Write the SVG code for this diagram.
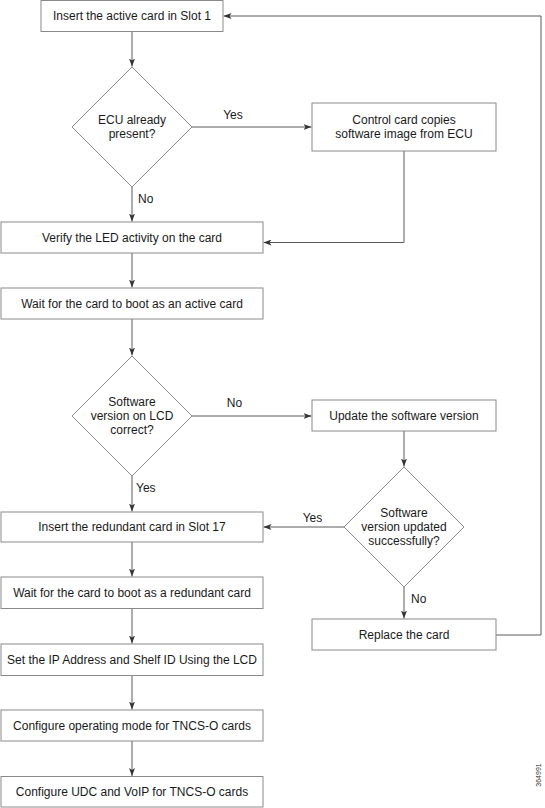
<svg xmlns="http://www.w3.org/2000/svg" width="545" height="808" viewBox="0 0 545 808">
<style>
  .box { fill: #ffffff; stroke: #8a8a8a; stroke-width: 1; }
  .t { font-family: "Liberation Sans", Arial, sans-serif; font-size: 12px; fill: #1a1a1a; text-anchor: middle; }
  .lbl { font-family: "Liberation Sans", Arial, sans-serif; font-size: 12px; fill: #1a1a1a; }
  .c { fill: none; stroke: #5a5a5a; stroke-width: 1; }
  .id { font-family: "Liberation Sans", Arial, sans-serif; font-size: 7px; fill: #333; text-anchor: middle; }
</style>
<defs>
  <marker id="arr" markerWidth="8" markerHeight="6" refX="8" refY="3" orient="auto" markerUnits="userSpaceOnUse">
    <path d="M0,0 L8,3 L0,6 L2,3 Z" fill="#333"/>
  </marker>
</defs>
<rect width="545" height="808" fill="#ffffff"/>

<g id="connectors">
  <path class="c" d="M132,31.5 V66.5" marker-end="url(#arr)"/>
  <path class="c" d="M192,127 H311.5" marker-end="url(#arr)"/>
  <path class="c" d="M132,187 V221.5" marker-end="url(#arr)"/>
  <path class="c" d="M404,151 V242.5 H263.5" marker-end="url(#arr)"/>
  <path class="c" d="M132,253 V287.5" marker-end="url(#arr)"/>
  <path class="c" d="M132,319 V355.5" marker-end="url(#arr)"/>
  <path class="c" d="M192,416 H311.5" marker-end="url(#arr)"/>
  <path class="c" d="M404,431 V466.5" marker-end="url(#arr)"/>
  <path class="c" d="M132,476 V511.5" marker-end="url(#arr)"/>
  <path class="c" d="M344,527 H263.5" marker-end="url(#arr)"/>
  <path class="c" d="M404,587 V618.5" marker-end="url(#arr)"/>
  <path class="c" d="M496,635 H541 V16 H223.5" marker-end="url(#arr)"/>
  <path class="c" d="M132,542 V576.5" marker-end="url(#arr)"/>
  <path class="c" d="M132,608.5 V643.5" marker-end="url(#arr)"/>
  <path class="c" d="M132,675.5 V709.5" marker-end="url(#arr)"/>
  <path class="c" d="M132,741 V776" marker-end="url(#arr)"/>
  <text class="lbl" x="233" y="119" text-anchor="middle">Yes</text>
  <text class="lbl" x="138" y="203">No</text>
  <text class="lbl" x="234.5" y="407" text-anchor="middle">No</text>
  <text class="lbl" x="136" y="492">Yes</text>
  <text class="lbl" x="312.5" y="522" text-anchor="middle">Yes</text>
  <text class="lbl" x="411" y="603">No</text>
</g>

<g id="insert-active">
  <rect class="box" x="41" y="0.5" width="182" height="31"/>
  <text class="t" x="132" y="20">Insert the active card in Slot 1</text>
</g>
<g id="ecu-present">
  <path class="box" d="M132,67 L192,127 L132,187 L72,127 Z"/>
  <text class="t" x="132" y="124">ECU already</text>
  <text class="t" x="132" y="138">present?</text>
</g>
<g id="copy-image">
  <rect class="box" x="312" y="103" width="184" height="48"/>
  <text class="t" x="404" y="124">Control card copies</text>
  <text class="t" x="404" y="138">software image from ECU</text>
</g>
<g id="verify-led">
  <rect class="box" x="1" y="222" width="262" height="31"/>
  <text class="t" x="132" y="241.5">Verify the LED activity on the card</text>
</g>
<g id="wait-active">
  <rect class="box" x="1" y="288" width="262" height="31"/>
  <text class="t" x="132" y="307.5">Wait for the card to boot as an active card</text>
</g>
<g id="sw-correct">
  <path class="box" d="M132,356 L192,416 L132,476 L72,416 Z"/>
  <text class="t" x="132" y="406">Software</text>
  <text class="t" x="132" y="420">version on LCD</text>
  <text class="t" x="132" y="434">correct?</text>
</g>
<g id="update-sw">
  <rect class="box" x="312" y="400" width="184" height="31"/>
  <text class="t" x="404" y="419.5">Update the software version</text>
</g>
<g id="sw-updated">
  <path class="box" d="M404,467 L464,527 L404,587 L344,527 Z"/>
  <text class="t" x="404" y="517">Software</text>
  <text class="t" x="404" y="531">version updated</text>
  <text class="t" x="404" y="545">successfully?</text>
</g>
<g id="insert-redundant">
  <rect class="box" x="1" y="512" width="262" height="30"/>
  <text class="t" x="132" y="531">Insert the redundant card in Slot 17</text>
</g>
<g id="replace-card">
  <rect class="box" x="312" y="619" width="184" height="31"/>
  <text class="t" x="404" y="638.5">Replace the card</text>
</g>
<g id="wait-redundant">
  <rect class="box" x="1" y="577" width="262" height="31.5"/>
  <text class="t" x="132" y="597">Wait for the card to boot as a redundant card</text>
</g>
<g id="set-ip">
  <rect class="box" x="1" y="644" width="262" height="31.5"/>
  <text class="t" x="132" y="664">Set the IP Address and Shelf ID Using the LCD</text>
</g>
<g id="config-mode">
  <rect class="box" x="1" y="710" width="262" height="31"/>
  <text class="t" x="132" y="729.5">Configure operating mode for TNCS-O cards</text>
</g>
<g id="config-udc">
  <rect class="box" x="1" y="776.5" width="262" height="30.5"/>
  <text class="t" x="132" y="796">Configure UDC and VoIP for TNCS-O cards</text>
</g>
<text class="id" transform="translate(541,775) rotate(-90)">364991</text>
</svg>
